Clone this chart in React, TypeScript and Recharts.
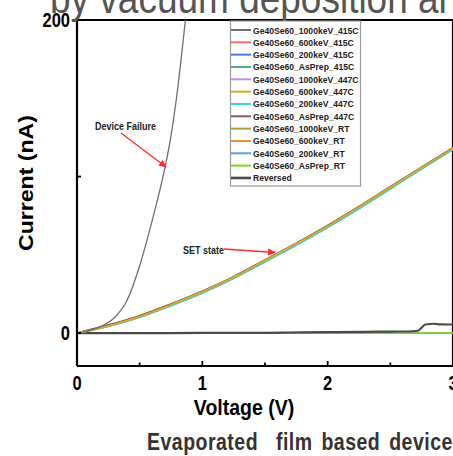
import React from "react";
import { LineChart, Line, XAxis, YAxis, ReferenceLine } from "recharts";

// I–V sweeps, voltage in V, current in nA
const failureCurve = [
  { v: 0, i: 0 }, { v: 0.1, i: 1.8 }, { v: 0.2, i: 4.6 }, { v: 0.3, i: 10 },
  { v: 0.4, i: 21 }, { v: 0.5, i: 43 }, { v: 0.6, i: 72 }, { v: 0.7, i: 105 },
  { v: 0.75, i: 126 }, { v: 0.8, i: 154 }, { v: 0.85, i: 189 }, { v: 0.865, i: 200 },
  { v: 0.9, i: 228 },
];

const setMain = [
  { v: 0, i: 0 }, { v: 0.1, i: 1.7 }, { v: 0.25, i: 4.6 }, { v: 0.5, i: 10.6 },
  { v: 0.75, i: 18.2 }, { v: 1, i: 26.4 }, { v: 1.25, i: 35.8 }, { v: 1.5, i: 46.5 },
  { v: 1.75, i: 57.2 }, { v: 2, i: 68.5 }, { v: 2.25, i: 80.6 }, { v: 2.5, i: 93.2 },
  { v: 2.75, i: 105.8 }, { v: 3, i: 118.2 },
];

const setLow = [
  { v: 0, i: 0 }, { v: 0.1, i: 1.5 }, { v: 0.25, i: 4.3 }, { v: 0.5, i: 10.1 },
  { v: 0.75, i: 17.5 }, { v: 1, i: 25.6 }, { v: 1.25, i: 35 }, { v: 1.5, i: 45.6 },
  { v: 1.75, i: 56.3 }, { v: 2, i: 67.6 }, { v: 2.25, i: 79.6 }, { v: 2.5, i: 92.2 },
  { v: 2.75, i: 104.9 }, { v: 3, i: 117.4 },
];

const setHigh = [
  { v: 0, i: 0 }, { v: 0.1, i: 2.1 }, { v: 0.25, i: 5.2 }, { v: 0.5, i: 11.2 },
  { v: 0.75, i: 18.7 }, { v: 1, i: 26.8 }, { v: 1.25, i: 36.1 }, { v: 1.5, i: 46.8 },
  { v: 1.75, i: 57.5 }, { v: 2, i: 68.8 }, { v: 2.25, i: 80.9 }, { v: 2.5, i: 93.5 },
  { v: 2.75, i: 106 }, { v: 3, i: 118.4 },
];

const zeroLine = [{ v: 0, i: 0 }, { v: 1.5, i: 0 }, { v: 3, i: 0 }];

const reversedCurve = [
  { v: 0, i: 0 }, { v: 0.5, i: 0 }, { v: 1, i: 0.1 }, { v: 1.5, i: 0.2 },
  { v: 1.7, i: 0.4 }, { v: 2, i: 0.6 }, { v: 2.3, i: 0.8 }, { v: 2.5, i: 1 },
  { v: 2.68, i: 1.2 }, { v: 2.72, i: 1.5 }, { v: 2.78, i: 5.5 }, { v: 2.85, i: 6 },
  { v: 2.9, i: 5.6 }, { v: 3, i: 5.5 },
];

const xTicks = [0, 0.5, 1, 1.5, 2, 2.5, 3];
const yTicks = [0, 100, 200];

// legend order
const series = [
  { name: "Ge40Se60_1000keV_415C", color: "#707070", data: failureCurve, width: 1.3 },
  { name: "Ge40Se60_600keV_415C", color: "#f06a6a", data: setHigh, width: 1.5 },
  { name: "Ge40Se60_200keV_415C", color: "#3f7fd8", data: setMain, width: 1.5 },
  { name: "Ge40Se60_AsPrep_415C", color: "#4cb27a", data: setLow, width: 1.5 },
  { name: "Ge40Se60_1000keV_447C", color: "#c090f0", data: setMain, width: 1.5 },
  { name: "Ge40Se60_600keV_447C", color: "#e0a81e", data: setMain, width: 1.6 },
  { name: "Ge40Se60_200keV_447C", color: "#30d8d8", data: setLow, width: 1.5 },
  { name: "Ge40Se60_AsPrep_447C", color: "#8c5a5a", data: setHigh, width: 1.5 },
  { name: "Ge40Se60_1000keV_RT", color: "#a9a43f", data: setMain, width: 1.5 },
  { name: "Ge40Se60_600keV_RT", color: "#f7893b", data: setLow, width: 1.5 },
  { name: "Ge40Se60_200keV_RT", color: "#5a9fe0", data: zeroLine, width: 1.5 },
  { name: "Ge40Se60_AsPrep_RT", color: "#7dd321", data: zeroLine, width: 1.6 },
  { name: "Reversed", color: "#4a4a4a", data: reversedCurve, width: 2.2 },
];

// draw order: bottom first, gold SET curve on top
const drawOrder = [10, 11, 12, 2, 4, 3, 8, 9, 1, 7, 6, 5, 0];

const FONT = "'Liberation Sans', Arial, sans-serif";
const PLOT_LEFT = 77;
const PLOT_BOTTOM = 366;

const XTick = (props: any) => {
  const { x, payload } = props;
  const v = payload.value as number;
  const major = Number.isInteger(v);
  return (
    <g>
      <line x1={x} x2={x} y1={PLOT_BOTTOM} y2={PLOT_BOTTOM - (major ? 5 : 3.5)} stroke="#000" strokeWidth={1.8} />
      {major && (
        <text
          transform={`translate(${x},390) scale(1,1.2)`}
          textAnchor="middle"
          fontSize={16.5}
          fontWeight="bold"
          fontFamily={FONT}
          fill="#000"
        >
          {v}
        </text>
      )}
    </g>
  );
};

const YTick = (props: any) => {
  const { y, payload } = props;
  const v = payload.value as number;
  return (
    <g>
      <line x1={PLOT_LEFT} x2={PLOT_LEFT + 4} y1={y} y2={y} stroke="#000" strokeWidth={1.8} />
      {v !== 100 && (
        <text
          transform={`translate(70,${y + 7}) scale(1,1.2)`}
          textAnchor="end"
          fontSize={16.5}
          fontWeight="bold"
          fontFamily={FONT}
          fill="#000"
        >
          {v}
        </text>
      )}
    </g>
  );
};

function Overlay() {
  const rowTop = 30;
  const rowStep = 12.33;
  return (
    <svg width={453} height={456} style={{ position: "absolute", left: 0, top: 0, pointerEvents: "none" }}>
      <defs>
        <marker id="arrow-red" markerWidth="8" markerHeight="8" refX="7" refY="4" orient="auto" markerUnits="userSpaceOnUse">
          <path d="M0,0.5 L8,4 L0,7.5 Z" fill="#ff2a2a" />
        </marker>
      </defs>

      <text
        transform="translate(50,13) scale(1,1.15)"
        fontSize={37}
        fontFamily={FONT}
        fill="#555"
      >
        by vacuum deposition and
      </text>

      {/* legend */}
      <rect x={230.5} y={21} width={130} height={165} fill="#fff" stroke="#9a9a9a" strokeWidth={1.2} />
      {series.map((s, k) => {
        const cy = rowTop + k * rowStep;
        return (
          <g key={s.name}>
            <line x1={231} x2={251} y1={cy} y2={cy} stroke={s.color} strokeWidth={s.name === "Reversed" ? 2.6 : 2} />
            <text
              transform={`translate(253,${cy + 3.5}) scale(1,1.15)`}
              fontSize={8.6}
              fontWeight="bold"
              fontFamily={FONT}
              fill="#222"
            >
              {s.name}
            </text>
          </g>
        );
      })}

      {/* annotations */}
      <text transform="translate(95,129.5) scale(1,1.15)" fontSize={9} fontWeight="bold" fontFamily={FONT} fill="#222">
        Device Failure
      </text>
      <line x1={121} y1={133} x2={166} y2={167} stroke="#ff2a2a" strokeWidth={1.3} markerEnd="url(#arrow-red)" />
      <text transform="translate(183,254) scale(1,1.15)" fontSize={9} fontWeight="bold" fontFamily={FONT} fill="#222">
        SET state
      </text>
      <line x1={224} y1={249} x2={275} y2={252.5} stroke="#ff2a2a" strokeWidth={1.3} markerEnd="url(#arrow-red)" />

      {/* axis titles */}
      <text
        transform="translate(244,415) scale(1,1.1)"
        textAnchor="middle"
        fontSize={19.5}
        fontWeight="bold"
        fontFamily={FONT}
        fill="#000"
      >
        Voltage (V)
      </text>
      <text
        transform="translate(33,183) rotate(-90) scale(1.1,1)"
        textAnchor="middle"
        fontSize={21}
        fontWeight="bold"
        fontFamily={FONT}
        fill="#000"
      >
        Current (nA)
      </text>

      <text
        transform="translate(147,450) scale(1,1.2)"
        fontSize={19.5}
        fontWeight="bold"
        fontFamily={FONT}
        fill="#333"
        style={{ whiteSpace: "pre" }}
        letterSpacing={0.5}
        wordSpacing={3}
      >
        {"Evaporated  film based devices"}
      </text>
    </svg>
  );
}

export default function App() {
  return (
    <div style={{ position: "absolute", left: 0, top: 0, width: 453, height: 456, overflow: "hidden", background: "#fff" }}>
      <LineChart width={460} height={456} margin={{ top: 20, right: 7, bottom: 60, left: 0 }}>
        <XAxis
          dataKey="v"
          type="number"
          domain={[0, 3]}
          ticks={xTicks}
          allowDataOverflow
          height={30}
          tickLine={false}
          axisLine={{ stroke: "#000", strokeWidth: 2.2 }}
          tick={XTick}
          interval={0}
        />
        <YAxis
          dataKey="i"
          type="number"
          domain={[-21, 200]}
          ticks={yTicks}
          allowDataOverflow
          width={77}
          tickLine={false}
          axisLine={{ stroke: "#000", strokeWidth: 2.2 }}
          tick={YTick}
          interval={0}
        />
        <ReferenceLine y={200} stroke="#000" strokeWidth={2.2} />
        <ReferenceLine x={3} stroke="#000" strokeWidth={2.2} />
        {drawOrder.map((k) => {
          const s = series[k];
          return (
            <Line
              key={s.name}
              name={s.name}
              data={s.data}
              dataKey="i"
              type="monotone"
              stroke={s.color}
              strokeWidth={s.width}
              dot={false}
              activeDot={false}
              isAnimationActive={false}
            />
          );
        })}
      </LineChart>
      <Overlay />
    </div>
  );
}
